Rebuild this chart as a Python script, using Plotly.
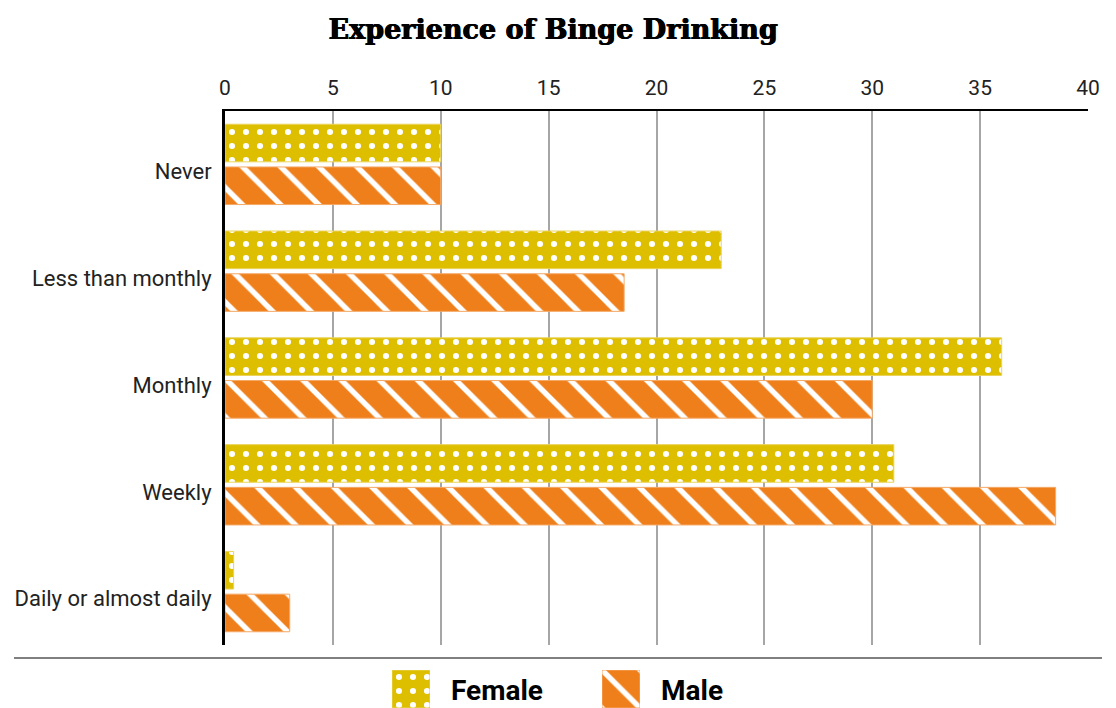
import plotly.graph_objects as go

categories = ["Never", "Less than monthly", "Monthly", "Weekly", "Daily or almost daily"]
female = [10, 23, 36, 31, 0.4]
male = [10, 18.5, 30, 38.5, 3]
x_ticks = [0, 5, 10, 15, 20, 25, 30, 35, 40]
series_names = ["Female", "Male"]

YELLOW = "#DDBF00"
ORANGE = "#EF7F1A"
dots = dict(shape=".", fgcolor="white", fgopacity=1, bgcolor=YELLOW, size=14, solidity=0.15)
stripes = dict(shape="\\", fgcolor="white", fgopacity=1, bgcolor=ORANGE, size=27, solidity=0.2)

W, H = 1108, 700  # page body adds an 8px offset on the left/top


def px(x):
    return x / W


def py(y):
    return 1 - y / H


fig = go.Figure()
fig.add_trace(go.Bar(
    y=categories, x=female, orientation="h", name=series_names[0], showlegend=False,
    marker=dict(color=YELLOW, line=dict(color="#EBD35A", width=1), pattern=dots),
))
fig.add_trace(go.Bar(
    y=categories, x=male, orientation="h", name=series_names[1], showlegend=False,
    marker=dict(color=ORANGE, line=dict(color="#F4A865", width=1), pattern=stripes),
))
# legend swatches drawn as single bars on small hidden axes
fig.add_trace(go.Bar(x=[0], y=[1], width=[1], xaxis="x2", yaxis="y2", showlegend=False, hoverinfo="skip",
                     marker=dict(color=YELLOW, line=dict(color="#EBD35A", width=1), pattern=dots)))
fig.add_trace(go.Bar(x=[0], y=[1], width=[1], xaxis="x3", yaxis="y3", showlegend=False, hoverinfo="skip",
                     marker=dict(color=ORANGE, line=dict(color="#F4A865", width=1), pattern=stripes)))

hidden = dict(visible=False, fixedrange=True, automargin=False)
legend_font = dict(size=28, color="black", family="Roboto", weight="bold")
fig.update_layout(
    width=W, height=H,
    paper_bgcolor="white", plot_bgcolor="white",
    margin=dict(l=0, r=0, t=0, b=0, autoexpand=False),
    barmode="group", bargap=0.2, bargroupgap=0.12,
    title=dict(text="Experience of Binge Drinking", x=px(545), xanchor="center", y=py(22), yanchor="middle",
               font=dict(family="DejaVu Serif", size=27, color="black", weight="bold",
                         shadow="0.7px 0px 0px black, -0.3px 0px 0px black"),
               automargin=False),
    font=dict(family="Roboto", color="#222"),
    xaxis=dict(domain=[px(217), px(1080)], range=[0, 40], tickvals=x_ticks, side="top", automargin=False,
               showgrid=True, gridcolor="#A6A6A6", gridwidth=2, ticklabelstandoff=6,
               showline=True, linecolor="black", linewidth=2, ticks="", zeroline=False,
               tickfont=dict(size=21, color="#222", family="Roboto")),
    yaxis=dict(domain=[py(637), py(103)], autorange="reversed", showline=True, linecolor="black",
               linewidth=3, ticks="", ticklabelstandoff=6, ticklabelshift=-7, automargin=False,
               tickfont=dict(size=22, color="#222", family="Roboto"), showgrid=False),
    xaxis2=dict(domain=[px(384), px(422)], range=[-0.5, 0.5], anchor="y2", **hidden),
    yaxis2=dict(domain=[0, 38 / H], range=[0, 1], anchor="x2", **hidden),
    xaxis3=dict(domain=[px(594), px(632)], range=[-0.5, 0.5], anchor="y3", **hidden),
    yaxis3=dict(domain=[0, 38 / H], range=[0, 1], anchor="x3", **hidden),
    annotations=[
        dict(text=series_names[0], xref="paper", yref="paper", x=px(441), y=py(682), xanchor="left",
             yanchor="middle", showarrow=False, font=legend_font),
        dict(text=series_names[1], xref="paper", yref="paper", x=px(651), y=py(682), xanchor="left",
             yanchor="middle", showarrow=False, font=legend_font),
    ],
    shapes=[dict(type="line", xref="paper", yref="paper", x0=px(6), x1=px(1094), y0=py(650), y1=py(650),
                 line=dict(color="#555", width=1.5))],
)

fig.write_html("out.html")
